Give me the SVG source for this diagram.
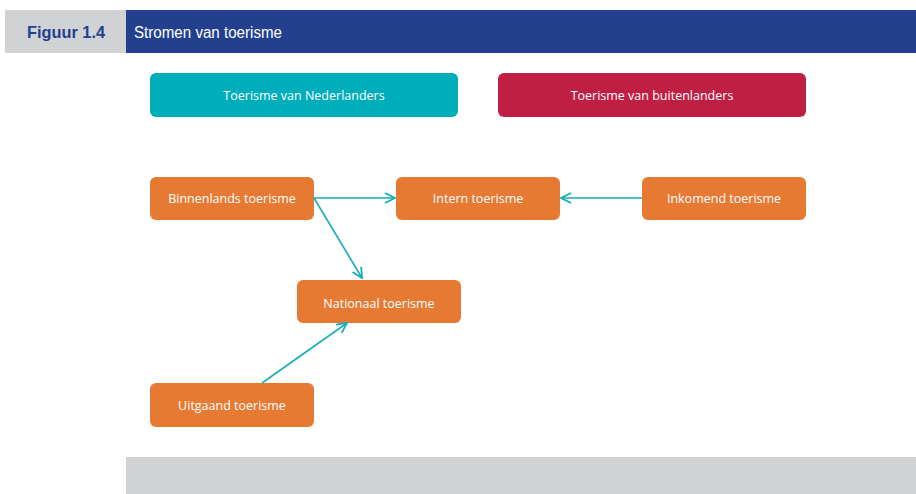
<svg xmlns="http://www.w3.org/2000/svg" width="916" height="494" viewBox="0 0 916 494">
<style>
.box{fill:#E77A33}
.t{font-family:"Open Sans","Liberation Sans",sans-serif;font-size:12.5px;fill:#fff;text-anchor:middle}
.c{stroke:#12AEBB;stroke-width:1.6;fill:none}
</style>
<defs>
<marker id="ah" viewBox="0 0 12 12" refX="11" refY="6" markerWidth="12" markerHeight="12" markerUnits="userSpaceOnUse" orient="auto">
<path d="M1,1 L11,6 L1,11" fill="none" stroke="#12AEBB" stroke-width="1.8"/>
</marker>
</defs>
<rect x="0" y="0" width="916" height="494" fill="#fff"/>
<g id="header">
<rect x="5" y="10" width="121" height="43" fill="#D1D2D4"/>
<rect x="126" y="10" width="790" height="43" fill="#243F8E"/>
<text x="27" y="38" font-family="'Liberation Sans',Arial,sans-serif" font-weight="bold" font-size="17" fill="#243F8E" textLength="78" lengthAdjust="spacingAndGlyphs">Figuur 1.4</text>
<text x="134" y="38" font-family="'Liberation Sans',Arial,sans-serif" font-size="16" fill="#fff" textLength="148" lengthAdjust="spacingAndGlyphs">Stromen van toerisme</text>
</g>
<g id="nederlanders">
<rect x="150" y="73" width="308" height="44" rx="6" fill="#00ADBA"/>
<text class="t" x="304" y="100">Toerisme van Nederlanders</text>
</g>
<g id="buitenlanders">
<rect x="498" y="73" width="308" height="44" rx="6" fill="#C01F44"/>
<text class="t" x="652" y="100">Toerisme van buitenlanders</text>
</g>
<g id="binnenlands">
<rect class="box" x="150" y="177" width="164" height="43" rx="6"/>
<text class="t" x="232" y="203">Binnenlands toerisme</text>
</g>
<g id="intern">
<rect class="box" x="396" y="177" width="164" height="43" rx="6"/>
<text class="t" x="478" y="203">Intern toerisme</text>
</g>
<g id="inkomend">
<rect class="box" x="642" y="177" width="164" height="43" rx="6"/>
<text class="t" x="724" y="203">Inkomend toerisme</text>
</g>
<g id="nationaal">
<rect class="box" x="297" y="280" width="164" height="43" rx="6"/>
<text class="t" x="379" y="308">Nationaal toerisme</text>
</g>
<g id="uitgaand">
<rect class="box" x="150" y="383" width="164" height="44" rx="6"/>
<text class="t" x="232" y="410">Uitgaand toerisme</text>
</g>
<g id="connectors">
<line class="c" x1="314" y1="198" x2="395" y2="198" marker-end="url(#ah)"/>
<line class="c" x1="642" y1="198" x2="561" y2="198" marker-end="url(#ah)"/>
<line class="c" x1="314" y1="198" x2="362" y2="278" marker-end="url(#ah)"/>
<line class="c" x1="262" y1="383" x2="347" y2="323" marker-end="url(#ah)"/>
</g>
<g id="footer">
<rect x="126" y="457" width="790" height="37" fill="#D1D2D4"/>
</g>
</svg>
